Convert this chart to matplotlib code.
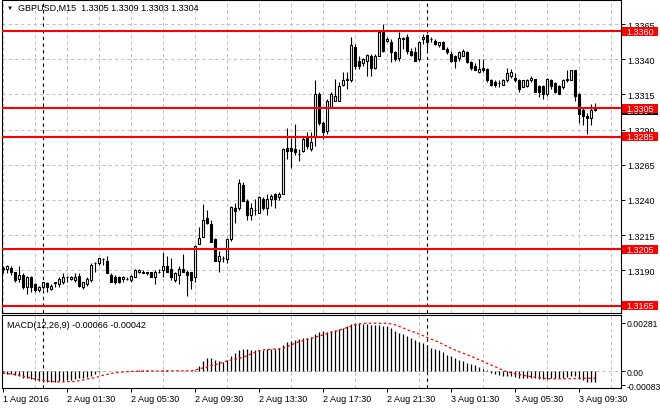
import numpy as np
import matplotlib
matplotlib.use("Agg")
import matplotlib.pyplot as plt
from matplotlib.patches import Rectangle
import matplotlib.transforms as mtransforms

plt.rcParams['font.family'] = ['Liberation Sans', 'DejaVu Sans']

# -------------------------------------------------------------------------
# GBPUSD M15 candles, 1 Aug 21:30 .. 3 Aug 10:30
# -------------------------------------------------------------------------
open_ = [1.3191, 1.3191, 1.3192, 1.3189, 1.3184, 1.3187, 1.3178, 1.3185, 1.3180, 1.3176,
         1.3178, 1.3181, 1.3177, 1.3181, 1.3180, 1.3182, 1.3185, 1.3184, 1.3183, 1.3186,
         1.3178, 1.3180, 1.3183, 1.3195, 1.3195, 1.3198, 1.3197, 1.3187, 1.3185, 1.3185,
         1.3184, 1.3184, 1.3183, 1.3185, 1.3189, 1.3189, 1.3189, 1.3189, 1.3185, 1.3189,
         1.3190, 1.3193, 1.3191, 1.3183, 1.3187, 1.3191, 1.3189, 1.3189, 1.3185, 1.3209,
         1.3214, 1.3227, 1.3223, 1.3212, 1.3197, 1.3199, 1.3198, 1.3212, 1.3234, 1.3234,
         1.3251, 1.3239, 1.3229, 1.3233, 1.3231, 1.3241, 1.3234, 1.3241, 1.3244, 1.3242,
         1.3244, 1.3277, 1.3277, 1.3276, 1.3273, 1.3275, 1.3285, 1.3276, 1.3285, 1.3315,
         1.3295, 1.3289, 1.3305, 1.3310, 1.3310, 1.3322, 1.3325, 1.3325, 1.3349, 1.3339,
         1.3337, 1.3339, 1.3342, 1.3334, 1.3342, 1.3359, 1.3353, 1.3352, 1.3345, 1.3341,
         1.3355, 1.3356, 1.3346, 1.3345, 1.3340, 1.3354, 1.3357, 1.3354, 1.3353, 1.3350,
         1.3352, 1.3347, 1.3344, 1.3342, 1.3341, 1.3342, 1.3345, 1.3338, 1.3335, 1.3331,
         1.3334, 1.3333, 1.3325, 1.3324, 1.3323, 1.3322, 1.3325, 1.3328, 1.3327, 1.3325,
         1.3320, 1.3321, 1.3325, 1.3326, 1.3321, 1.3321, 1.3315, 1.3325, 1.3323, 1.3321,
         1.3320, 1.3325, 1.3325, 1.3332, 1.3315, 1.3304, 1.3300, 1.3298, 1.3305]
high = [1.3193, 1.3194, 1.3193, 1.3189, 1.3193, 1.3188, 1.3186, 1.3186, 1.3181, 1.3179,
        1.3182, 1.3182, 1.3180, 1.3182, 1.3185, 1.3188, 1.3186, 1.3186, 1.3188, 1.3188,
        1.3182, 1.3185, 1.3195, 1.3196, 1.3199, 1.3199, 1.3200, 1.3188, 1.3187, 1.3186,
        1.3186, 1.3185, 1.3187, 1.3191, 1.3191, 1.3190, 1.3189, 1.3189, 1.3190, 1.3191,
        1.3203, 1.3200, 1.3199, 1.3189, 1.3193, 1.3202, 1.3190, 1.3189, 1.3208, 1.3221,
        1.3237, 1.3233, 1.3226, 1.3213, 1.3204, 1.3200, 1.3213, 1.3236, 1.3238, 1.3255,
        1.3253, 1.3241, 1.3238, 1.3241, 1.3243, 1.3242, 1.3244, 1.3244, 1.3245, 1.3246,
        1.3277, 1.3291, 1.3284, 1.3294, 1.3276, 1.3285, 1.3288, 1.3288, 1.3325, 1.3317,
        1.3296, 1.3312, 1.3317, 1.3326, 1.3324, 1.3331, 1.3331, 1.3356, 1.3351, 1.3342,
        1.3341, 1.3344, 1.3344, 1.3344, 1.3360, 1.3365, 1.3356, 1.3354, 1.3346, 1.3359,
        1.3356, 1.3358, 1.3348, 1.3349, 1.3353, 1.3358, 1.3358, 1.3356, 1.3354, 1.3352,
        1.3353, 1.3349, 1.3346, 1.3343, 1.3346, 1.3347, 1.3346, 1.3339, 1.3337, 1.3340,
        1.3340, 1.3334, 1.3326, 1.3325, 1.3325, 1.3326, 1.3334, 1.3333, 1.3330, 1.3326,
        1.3325, 1.3326, 1.3328, 1.3326, 1.3322, 1.3322, 1.3327, 1.3326, 1.3324, 1.3322,
        1.3326, 1.3332, 1.3332, 1.3332, 1.3316, 1.3306, 1.3302, 1.3308, 1.3309]
low = [1.3188, 1.3188, 1.3187, 1.3182, 1.3182, 1.3177, 1.3173, 1.3175, 1.3175, 1.3175,
       1.3177, 1.3175, 1.3176, 1.3178, 1.3178, 1.3180, 1.3182, 1.3183, 1.3182, 1.3178,
       1.3177, 1.3179, 1.3182, 1.3189, 1.3194, 1.3194, 1.3188, 1.3182, 1.3180, 1.3181,
       1.3182, 1.3183, 1.3182, 1.3185, 1.3188, 1.3188, 1.3187, 1.3185, 1.3180, 1.3188,
       1.3185, 1.3189, 1.3183, 1.3182, 1.3180, 1.3189, 1.3172, 1.3177, 1.3182, 1.3209,
       1.3214, 1.3223, 1.3210, 1.3197, 1.3189, 1.3196, 1.3195, 1.3211, 1.3224, 1.3233,
       1.3239, 1.3226, 1.3226, 1.3229, 1.3231, 1.3233, 1.3229, 1.3236, 1.3234, 1.3240,
       1.3244, 1.3269, 1.3263, 1.3272, 1.3268, 1.3274, 1.3276, 1.3275, 1.3278, 1.3293,
       1.3283, 1.3287, 1.3305, 1.3310, 1.3310, 1.3321, 1.3319, 1.3324, 1.3333, 1.3333,
       1.3335, 1.3328, 1.3328, 1.3333, 1.3342, 1.3345, 1.3352, 1.3338, 1.3339, 1.3339,
       1.3347, 1.3344, 1.3342, 1.3339, 1.3339, 1.3351, 1.3346, 1.3352, 1.3350, 1.3349,
       1.3347, 1.3344, 1.3338, 1.3334, 1.3339, 1.3342, 1.3337, 1.3332, 1.3332, 1.3330,
       1.3331, 1.3324, 1.3321, 1.3320, 1.3320, 1.3322, 1.3324, 1.3327, 1.3324, 1.3317,
       1.3320, 1.3320, 1.3324, 1.3317, 1.3313, 1.3312, 1.3314, 1.3319, 1.3316, 1.3315,
       1.3319, 1.3324, 1.3325, 1.3310, 1.3295, 1.3293, 1.3287, 1.3293, 1.3303]
close = [1.3192, 1.3193, 1.3189, 1.3183, 1.3187, 1.3178, 1.3185, 1.3178, 1.3176, 1.3178,
         1.3182, 1.3178, 1.3179, 1.3182, 1.3184, 1.3185, 1.3185, 1.3185, 1.3185, 1.3179,
         1.3182, 1.3184, 1.3194, 1.3195, 1.3199, 1.3198, 1.3188, 1.3182, 1.3182, 1.3182,
         1.3185, 1.3184, 1.3186, 1.3190, 1.3190, 1.3188, 1.3188, 1.3185, 1.3189, 1.3189,
         1.3193, 1.3189, 1.3185, 1.3188, 1.3191, 1.3189, 1.3187, 1.3183, 1.3207, 1.3213,
         1.3226, 1.3224, 1.3210, 1.3197, 1.3200, 1.3199, 1.3212, 1.3235, 1.3232, 1.3252,
         1.3239, 1.3229, 1.3234, 1.3233, 1.3242, 1.3234, 1.3241, 1.3243, 1.3241, 1.3244,
         1.3276, 1.3275, 1.3275, 1.3274, 1.3273, 1.3283, 1.3278, 1.3281, 1.3315, 1.3295,
         1.3288, 1.3310, 1.3315, 1.3314, 1.3321, 1.3325, 1.3326, 1.3350, 1.3335, 1.3335,
         1.3340, 1.3343, 1.3334, 1.3342, 1.3359, 1.3346, 1.3354, 1.3345, 1.3340, 1.3355,
         1.3354, 1.3346, 1.3343, 1.3339, 1.3352, 1.3356, 1.3352, 1.3354, 1.3351, 1.3352,
         1.3347, 1.3345, 1.3339, 1.3339, 1.3345, 1.3346, 1.3338, 1.3334, 1.3332, 1.3333,
         1.3332, 1.3325, 1.3322, 1.3322, 1.3323, 1.3325, 1.3330, 1.3331, 1.3325, 1.3319,
         1.3325, 1.3325, 1.3327, 1.3317, 1.3317, 1.3315, 1.3326, 1.3321, 1.3317, 1.3315,
         1.3325, 1.3326, 1.3332, 1.3314, 1.3301, 1.3300, 1.3298, 1.3304, 1.3304]

# MACD(12,26,9) main line and signal, in units of 1e-5
macd_main = [-12, -16, -20, -23, -31, -39, -43, -47, -53, -59,
             -64, -66, -66, -64, -61, -59, -55, -51, -47, -43,
             -39, -35, -31, -20, -8, -2, 2, 2, 1, 0,
             -1, -1, 0, 2, 3, 3, 3, 2, 2, 2,
             3, 3, 2, 1, 1, 1, 0, -1, 8, 31,
             57, 74, 74, 64, 59, 55, 66, 90, 104, 125,
             129, 129, 125, 123, 125, 123, 127, 129, 131, 133,
             152, 168, 178, 184, 187, 191, 195, 197, 217, 230,
             232, 230, 236, 240, 246, 254, 262, 276, 280, 281,
             278, 274, 270, 268, 268, 262, 262, 250, 234, 225,
             215, 205, 193, 180, 168, 164, 154, 135, 129, 121,
             109, 96, 86, 78, 64, 57, 49, 39, 33, 25,
             14, 4, -12, -18, -23, -27, -31, -31, -35, -39,
             -41, -43, -41, -43, -47, -49, -47, -43, -43, -43,
             -39, -35, -31, -31, -47, -55, -62, -66, -66]
macd_signal = [-12, -15, -18, -21, -25, -31, -37, -41, -47, -51,
               -55, -59, -61, -62, -64, -64, -62, -62, -61, -57,
               -53, -47, -43, -39, -33, -25, -20, -14, -10, -8,
               -6, -4, -3, -2, -2, -1, -1, 0, 0, 0,
               0, 1, 1, 1, 1, 1, 1, 1, 6, 12,
               18, 23, 31, 37, 43, 51, 59, 64, 70, 74,
               80, 90, 100, 109, 119, 123, 125, 127, 129, 129,
               133, 143, 152, 162, 172, 178, 186, 191, 197, 205,
               211, 219, 227, 232, 238, 246, 254, 262, 270, 275,
               279, 279, 279, 279, 279, 279, 279, 275, 271, 262,
               252, 242, 232, 227, 217, 207, 197, 187, 178, 168,
               156, 145, 133, 123, 113, 104, 96, 86, 76, 66,
               57, 45, 35, 25, 16, 2, -4, -10, -16, -21,
               -25, -29, -33, -37, -39, -43, -45, -45, -46, -46,
               -46, -45, -45, -44, -43, -43, -42, -42, -42]

levels = [1.3360, 1.3305, 1.3285, 1.3205, 1.3165]
price_ticks = [1.3190, 1.3215, 1.3240, 1.3265, 1.3290, 1.3315, 1.3340, 1.3365]
time_labels = ["1 Aug 2016", "2 Aug 01:30", "2 Aug 05:30", "2 Aug 09:30", "2 Aug 13:30",
               "2 Aug 17:30", "2 Aug 21:30", "3 Aug 01:30", "3 Aug 05:30", "3 Aug 09:30"]
separators = [10, 106]  # bars at midnight

o = np.array(open_)
h = np.array(high)
l = np.array(low)
c = np.array(close)
idx = np.arange(len(c))
macd = np.array(macd_main) * 1e-5
signal = np.array(macd_signal) * 1e-5

# -------------------------------------------------------------------------
# Layout (pixel positions of the MT4 window)
# -------------------------------------------------------------------------
W, H = 660, 410
fig = plt.figure(figsize=(W / 100, H / 100), dpi=100)
ax = fig.add_axes([2 / W, 1 - 314 / H, 619 / W, 313 / H])
ax2 = fig.add_axes([2 / W, 1 - 389 / H, 619 / W, 73 / H])

grid_kw = dict(color="#c0c0c0", linestyle=(0, (3, 3)), linewidth=0.75)
sep_kw = dict(color="black", linestyle=(0, (3, 3)), linewidth=0.8)

for a in (ax, ax2):
    a.set_xlim(-0.25, 154.5)
    a.set_xticks(np.arange(0, 155, 8), minor=True)
    a.grid(True, which="minor", axis="x", **grid_kw)
    a.set_axisbelow(True)
    for s in a.spines.values():
        s.set_linewidth(0.8)
        s.set_color("black")
    for sx in separators:
        a.axvline(sx, zorder=1.5, **sep_kw)

# -- main price panel --
ax.set_ylim(1.315974, 1.338205)
ax.set_yticks(price_ticks)
ax.set_yticklabels([f"{p:.4f}" for p in price_ticks])
ax.yaxis.tick_right()
ax.grid(True, which="major", axis="y", **grid_kw)
ax.tick_params(axis="y", length=3, width=0.7, labelsize=6.5, pad=1.5)
ax.tick_params(axis="x", which="both", length=0, labelbottom=False)
ax.set_xticks([])

ax.vlines(idx, l, h, color="black", linewidth=0.8, zorder=2)
bull = c >= o
ax.bar(idx, np.abs(c - o), bottom=np.minimum(o, c), width=0.55,
       color=np.where(bull, "white", "black"), edgecolor="black",
       linewidth=0.8, zorder=3)

for lv in levels:
    ax.axhline(lv, color="#ff0000", linewidth=1.5, zorder=4)

# price labels on the right axis, drawn over the tick labels
blend = mtransforms.blended_transform_factory(fig.transFigure, ax.transData)
box_h = 9 / 1.408 * 1e-4


def price_box(price, fc, text, z):
    ax.add_patch(Rectangle((622 / W, price - box_h / 2), 36 / W, box_h, transform=blend,
                           facecolor=fc, edgecolor="none", clip_on=False, zorder=z))
    ax.text(640 / W, price, text, transform=blend, color="white", fontsize=6.5,
            ha="center", va="center", clip_on=False, zorder=z + 0.5)


price_box(c[-1] - 0.00005, "black", f"{c[-1]:.4f}", 10)
for k, lv in enumerate(levels):
    price_box(lv, "#ff0000", f"{lv:.4f}", 12 + k)

fig.text(7 / W, 1 - 8 / H, "▼", fontsize=4.5, ha="left", va="center")
fig.text(18 / W, 1 - 8 / H,
         f"GBPUSD,M15  {o[-1]:.4f} {h[-1]:.4f} {l[-1]:.4f} {c[-1]:.4f}",
         fontsize=6.5, ha="left", va="center")

# -- MACD panel --
ax2.set_ylim(-0.000995, 0.003278)
ax2.axhline(0, zorder=1, **grid_kw)
ax2.vlines(idx, 0, macd, color="black", linewidth=0.9, zorder=2)
ax2.plot(idx, signal, color="#ff0000", linestyle=(0, (2, 2)), linewidth=0.9, zorder=3)
ax2.yaxis.tick_right()
ax2.set_yticks([0.00281, 0.0, -0.00083])
ax2.set_yticklabels(["0.00281", "0.00", "-0.00083"])
ax2.tick_params(axis="y", length=3, width=0.7, labelsize=6.2, pad=1)
ax2.set_xticks(np.arange(0, 16 * len(time_labels), 16))
ax2.set_xticklabels(time_labels)
ax2.tick_params(axis="x", which="major", length=3, width=0.7, labelsize=6.5, pad=1.5)
ax2.tick_params(axis="x", which="minor", length=0)
for lab in ax2.get_xticklabels():
    lab.set_ha("left")

fig.text(7 / W, 1 - 326 / H,
         f"MACD(12,26,9) {macd[-1]:.5f} {signal[-1]:.5f}",
         fontsize=6.5, ha="left", va="center")

plt.savefig("out.png", dpi=100)
